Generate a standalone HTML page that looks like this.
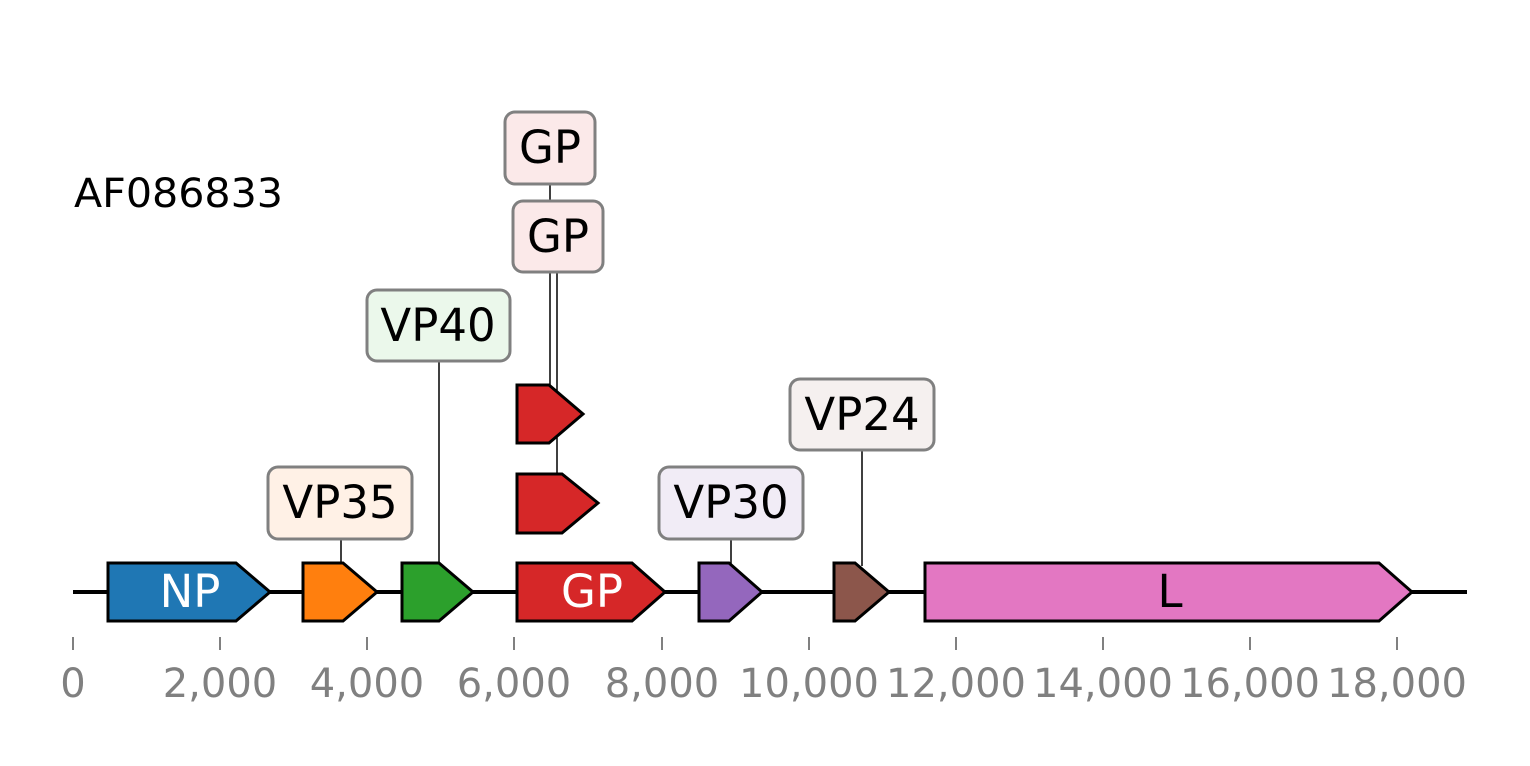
<!DOCTYPE html>
<html><head><meta charset="utf-8"><style>html,body{margin:0;padding:0;background:#fff}svg{display:block}</style></head>
<body>
<svg width="1530" height="766" viewBox="0 0 1530 766" xmlns="http://www.w3.org/2000/svg" font-family="DejaVu Sans, Liberation Sans, sans-serif">
<rect width="1530" height="766" fill="#fff"/>
<text x="74" y="207" font-size="40" fill="#000" textLength="209" lengthAdjust="spacingAndGlyphs">AF086833</text>
<line x1="73" y1="592" x2="1467" y2="592" stroke="#000" stroke-width="4"/>
<g stroke="#000" stroke-width="1.5">
<line x1="550" y1="184" x2="550" y2="386"/>
<line x1="557" y1="272" x2="557" y2="475"/>
<line x1="439" y1="361" x2="439" y2="564"/>
<line x1="341" y1="539" x2="341" y2="564"/>
<line x1="731" y1="539" x2="731" y2="564"/>
<line x1="862" y1="450" x2="862" y2="566"/>
</g>
<g stroke="#000" stroke-width="3" stroke-linejoin="miter">
<polygon points="108,563 236,563 270,592 236,621 108,621" fill="#1f77b4"/>
<polygon points="303,563 343,563 377,592 343,621 303,621" fill="#ff7f0e"/>
<polygon points="402,563 439,563 473,592 439,621 402,621" fill="#2ca02c"/>
<polygon points="517,563 632,563 665,592 632,621 517,621" fill="#d62728"/>
<polygon points="699,563 729,563 762,592 729,621 699,621" fill="#9467bd"/>
<polygon points="834,563 855,563 889,592 855,621 834,621" fill="#8c564b"/>
<polygon points="925,563 1379,563 1412,592 1379,621 925,621" fill="#e377c2"/>
<polygon points="517,385 549,385 583,414 549,443 517,443" fill="#d62728"/>
<polygon points="517,474 562,474 598,503 562,533 517,533" fill="#d62728"/>
</g>
<g font-size="45" text-anchor="middle">
<text x="190" y="607" fill="#fff">NP</text>
<text x="592" y="607" fill="#fff">GP</text>
<text x="1170" y="607" fill="#000">L</text>
</g>
<g stroke="#808080" stroke-width="3">
<rect x="505" y="112" width="90" height="72" rx="10" fill="#fbe9e9"/>
<rect x="513" y="201" width="90" height="71" rx="10" fill="#fbe9e9"/>
<rect x="367" y="290" width="143" height="71" rx="10" fill="#ebf8eb"/>
<rect x="268" y="467" width="144" height="72" rx="10" fill="#fff1e6"/>
<rect x="659" y="467" width="144" height="72" rx="10" fill="#f1ecf6"/>
<rect x="790" y="379" width="144" height="71" rx="10" fill="#f5f0ef"/>
</g>
<g font-size="45" text-anchor="middle" fill="#000">
<text x="550" y="163">GP</text>
<text x="558" y="252">GP</text>
<text x="438" y="341">VP40</text>
<text x="340" y="518">VP35</text>
<text x="731" y="518">VP30</text>
<text x="862" y="430">VP24</text>
</g>
<g stroke="#808080" stroke-width="2">
<line x1="73" y1="637" x2="73" y2="650"/><line x1="220" y1="637" x2="220" y2="650"/>
<line x1="367" y1="637" x2="367" y2="650"/><line x1="514" y1="637" x2="514" y2="650"/>
<line x1="662" y1="637" x2="662" y2="650"/><line x1="809" y1="637" x2="809" y2="650"/>
<line x1="956" y1="637" x2="956" y2="650"/><line x1="1103" y1="637" x2="1103" y2="650"/>
<line x1="1250" y1="637" x2="1250" y2="650"/><line x1="1397" y1="637" x2="1397" y2="650"/>
</g>
<g font-size="40" text-anchor="middle" fill="#808080">
<text x="73" y="697">0</text><text x="220" y="697">2,000</text><text x="367" y="697">4,000</text>
<text x="514" y="697">6,000</text><text x="662" y="697">8,000</text><text x="809" y="697">10,000</text>
<text x="956" y="697">12,000</text><text x="1103" y="697">14,000</text><text x="1250" y="697">16,000</text>
<text x="1397" y="697">18,000</text>
</g>
</svg>
</body></html>
